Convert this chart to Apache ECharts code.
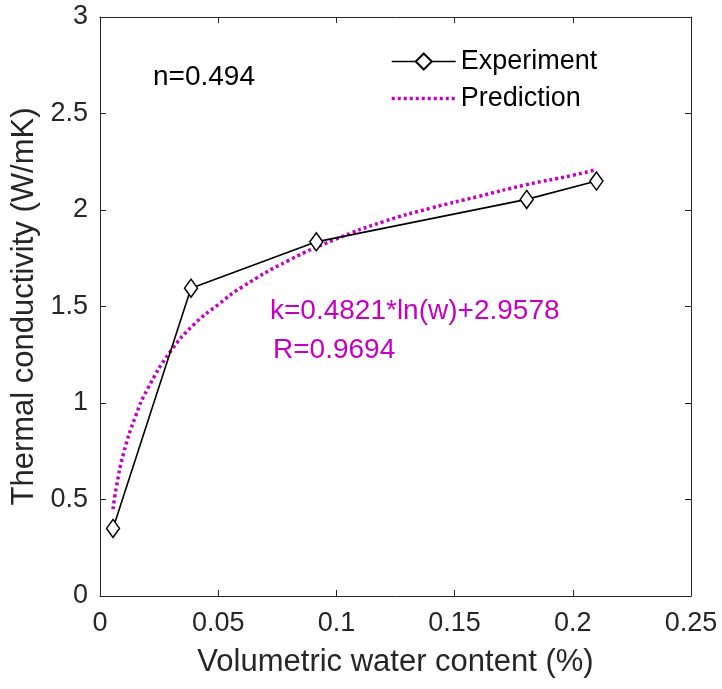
<!DOCTYPE html>
<html><head><meta charset="utf-8">
<script src="https://cdn.jsdelivr.net/npm/echarts@6/dist/echarts.min.js"></script>
<style>html,body{margin:0;padding:0;background:#fff}#c{width:722px;height:689px}</style>
</head><body><div id="c"></div>
<script>
const expX = [0.0055, 0.0385, 0.0915, 0.1805, 0.21];
const expY = [0.35, 1.595, 1.835, 2.055, 2.15];
const predX = [0.0055, 0.007, 0.01, 0.015, 0.02, 0.03, 0.04, 0.05, 0.06, 0.08, 0.1, 0.12, 0.14, 0.16, 0.18, 0.2, 0.21];
const predY = [0.45, 0.57, 0.74, 0.93, 1.07, 1.27, 1.41, 1.51, 1.60, 1.74, 1.85, 1.94, 2.01, 2.07, 2.13, 2.18, 2.21];
const xTicks = [0, 0.05, 0.1, 0.15, 0.2, 0.25];
const yTicks = [0, 0.5, 1, 1.5, 2, 2.5, 3];
const seriesNames = ['Experiment', 'Prediction'];
const xTitle = 'Volumetric water content (%)';
const yTitle = 'Thermal conductivity (W/mK)';
const notes = ['n=0.494', 'k=0.4821*ln(w)+2.9578', 'R=0.9694'];

const font = 'Liberation Sans, Arial, Helvetica, sans-serif';
const axisCol = '#262626';
const mag = '#C400C4';
const chart = echarts.init(document.getElementById('c'));
const baseAxis = {
  axisLine: {show: true, onZero: false, lineStyle: {color: axisCol, width: 1}},
  axisTick: {show: true, inside: true, length: 6, lineStyle: {color: axisCol}},
  splitLine: {show: false}
};
chart.setOption({
  animation: false,
  grid: {left: 100, right: 31, top: 17, bottom: 93, containLabel: false},
  legend: {
    orient: 'vertical', left: 385, top: 43, itemWidth: 64, itemHeight: 20, itemGap: 10,
    textStyle: {fontFamily: font, fontSize: 27, color: '#000'},
    data: [
      {name: seriesNames[0], lineStyle: {width: 1.6}},
      {name: seriesNames[1], itemStyle: {opacity: 0}, lineStyle: {width: 3.5}}
    ]
  },
  xAxis: [
    Object.assign({}, baseAxis, {type: 'value', min: xTicks[0], max: xTicks[xTicks.length-1], interval: 0.05,
      name: xTitle, nameLocation: 'middle', nameGap: 51,
      nameTextStyle: {fontFamily: font, fontSize: 31, color: axisCol},
      axisLabel: {fontFamily: font, fontSize: 27, color: axisCol, margin: 14, formatter: v => String(+v.toFixed(2))}}),
    Object.assign({}, baseAxis, {type: 'value', position: 'top', min: xTicks[0], max: xTicks[xTicks.length-1], interval: 0.05, axisLabel: {show: false}})
  ],
  yAxis: [
    Object.assign({}, baseAxis, {type: 'value', min: yTicks[0], max: yTicks[yTicks.length-1], interval: 0.5,
      name: yTitle, nameLocation: 'middle', nameGap: 60,
      nameTextStyle: {fontFamily: font, fontSize: 31, color: axisCol},
      axisLabel: {fontFamily: font, fontSize: 27, color: axisCol, margin: 12, formatter: v => String(+v.toFixed(1))}}),
    Object.assign({}, baseAxis, {type: 'value', position: 'right', min: yTicks[0], max: yTicks[yTicks.length-1], interval: 0.5, axisLabel: {show: false}})
  ],
  series: [
    {name: seriesNames[0], type: 'line', data: expX.map((x, i) => [x, expY[i]]),
      symbol: 'diamond', symbolSize: [13, 18],
      itemStyle: {color: '#fff', borderColor: '#000', borderWidth: 1.5},
      lineStyle: {color: '#000', width: 1.6}, z: 3},
    {name: seriesNames[1], type: 'line', data: predX.map((x, i) => [x, predY[i]]),
      smooth: true, symbol: 'none',
      itemStyle: {color: mag},
      lineStyle: {color: mag, width: 3.5, type: [3, 3]}, z: 2}
  ],
  graphic: [
    {type: 'text', left: 153, top: 63, style: {text: notes[0], font: '28px ' + font, fill: '#000'}},
    {type: 'text', left: 270, top: 297, style: {text: notes[1], font: '28px ' + font, fill: mag}},
    {type: 'text', left: 273, top: 336, style: {text: notes[2], font: '28px ' + font, fill: mag}}
  ]
});
</script></body></html>
